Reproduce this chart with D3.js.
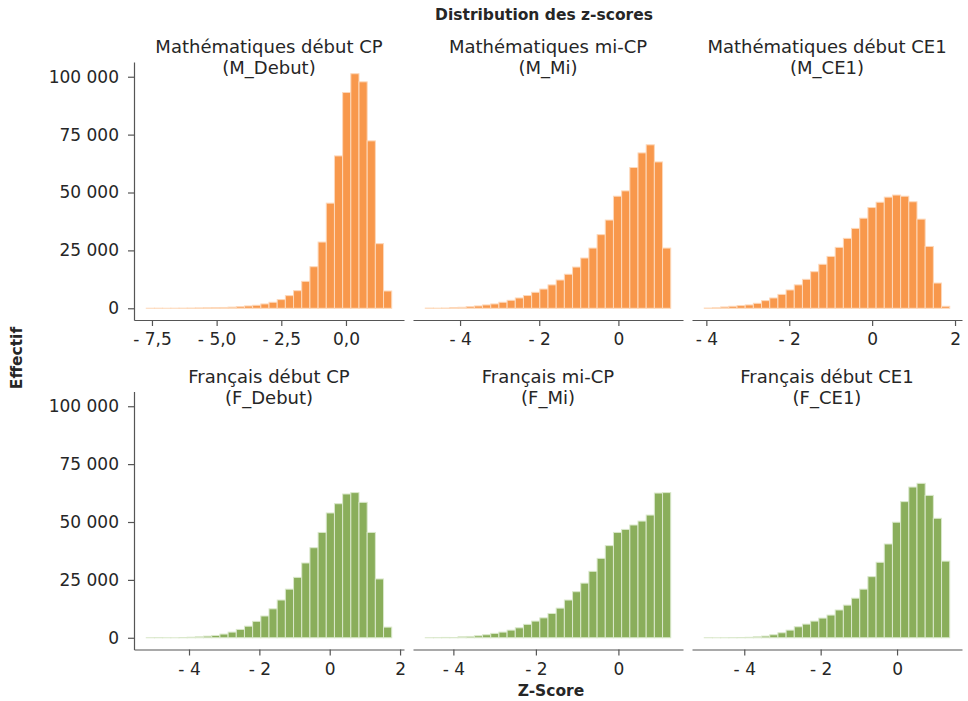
<!DOCTYPE html>
<html><head><meta charset="utf-8">
<script src="https://cdn.jsdelivr.net/npm/d3@7"></script>
<style>body{margin:0;background:#fff}svg{display:block}text{font-family:"DejaVu Sans",sans-serif;fill:#262626}</style>
</head><body>
<svg id="c" width="968" height="701"></svg>
<script>
// ---- data ----
const chartTitle = "Distribution des z-scores";
const xTitle = "Z-Score";
const yTitle = "Effectif";
const panelTitles = [
  ["Mathématiques début CP", "(M_Debut)"],
  ["Mathématiques mi-CP", "(M_Mi)"],
  ["Mathématiques début CE1", "(M_CE1)"],
  ["Français début CP", "(F_Debut)"],
  ["Français mi-CP", "(F_Mi)"],
  ["Français début CE1", "(F_CE1)"]
];
// first bin left edge and bin width (z-score units), 30 bins each
const binStart = [-7.72, -4.879, -4.05, -5.215, -4.681, -5.047];
const binWidth = [0.3163, 0.2067, 0.1974, 0.2326, 0.1983, 0.2142];
const M_Debut = [20,40,10,30,60,100,150,200,250,350,500,700,1000,1300,1870,2590,3740,5460,7600,11640,17950,28600,45400,65800,93200,101300,97800,72300,27900,7460];
const M_Mi    = [80,50,100,290,430,700,1000,1440,1870,2600,3450,4450,5500,6900,8300,10100,12200,14700,17800,21700,26000,31800,38100,48400,50700,60800,67100,70600,63200,26000];
const M_CE1   = [100,200,570,860,1150,1440,2150,3300,4450,6000,7900,10100,12500,15800,19000,22400,26300,30200,34500,38900,43500,45800,48000,48900,48400,46000,38500,26700,10900,860];
const F_Debut = [30,50,20,10,100,250,430,700,1000,1600,2450,3600,5000,7100,9400,12500,16300,21000,26100,32300,38900,45500,53900,57900,62100,62700,58500,45500,25400,4600];
const F_Mi    = [30,50,150,100,430,580,860,1300,1900,2450,3300,4300,5800,7200,8600,10500,12800,16300,19900,23600,28700,34300,39800,45500,46800,48700,50400,53000,62500,62700];
const F_CE1   = [30,10,20,50,100,200,430,720,1300,2160,3300,4750,5900,7200,8500,9800,12000,14100,17100,21000,26400,32600,40500,49900,58800,65100,66700,61500,51600,33100];
const counts = [M_Debut, M_Mi, M_CE1, F_Debut, F_Mi, F_CE1];
const xTicks = [[-7.5,-5,-2.5,0],[-4,-2,0],[-4,-2,0,2],[-4,-2,0,2],[-4,-2,0],[-4,-2,0]];
const yTicks = [0,25000,50000,75000,100000];
const fills = ["#f8984c","#f8984c","#f8984c","#8aae5b","#8aae5b","#8aae5b"];
const strokes = ["#fdd8ba","#fdd8ba","#fdd8ba","#dae8cb","#dae8cb","#dae8cb"];

// ---- layout ----
const svg = d3.select("#c");
const colX = [[134,404],[413,683],[692,962]];
const rowY = [[320,62],[649.5,391.5]];
const fr = d3.formatLocale({decimal:",", thousands:"\u00a0", grouping:[3], currency:["","€"], minus:"-\u00a0"});
const fmtY = fr.format(",d");
const FS = 17, FT = 18;

const ymax = d3.max(counts.flat());
const yDom = [-0.05*ymax, 1.05*ymax];

counts.forEach((cnt, p) => {
  const col = p % 3, row = Math.floor(p/3);
  const s = binStart[p], w = binWidth[p], n = cnt.length;
  const ext = n*w;
  const x = d3.scaleLinear().domain([s - 0.05*ext, s + ext + 0.05*ext]).range(colX[col]);
  const y = d3.scaleLinear().domain(yDom).range(rowY[row]);
  const g = svg.append("g");
  g.selectAll("rect").data(cnt).join("rect")
    .attr("x", (d,i) => x(s + i*w))
    .attr("width", x(s+w) - x(s))
    .attr("y", d => y(d))
    .attr("height", d => y(0) - y(d))
    .attr("fill", fills[p]).attr("stroke", strokes[p]).attr("stroke-width", 1);

  const fx = p === 0 ? fr.format(".1f") : fr.format("d");
  const ax = g.append("g").attr("transform", `translate(0,${rowY[row][0]})`)
    .call(d3.axisBottom(x).tickValues(xTicks[p]).tickFormat(fx).tickSize(6).tickSizeOuter(0).tickPadding(7));
  ax.select(".domain").attr("stroke", "#555").attr("stroke-width", 1.2);
  ax.selectAll(".tick line").attr("stroke", "#555").attr("stroke-width", 1.2);
  ax.selectAll("text").attr("font-size", FS).attr("fill", "#262626").attr("font-family", "DejaVu Sans");

  if (col === 0) {
    const ay = g.append("g").attr("transform", `translate(${colX[0][0]},0)`)
      .call(d3.axisLeft(y).tickValues(yTicks).tickFormat(fmtY).tickSize(6).tickSizeOuter(0).tickPadding(9));
    ay.select(".domain").attr("stroke", "#555").attr("stroke-width", 1.2);
    ay.selectAll(".tick line").attr("stroke", "#555").attr("stroke-width", 1.2);
    ay.selectAll("text").attr("font-size", FS).attr("fill", "#262626").attr("font-family", "DejaVu Sans");
  }

  const cx = (colX[col][0] + colX[col][1]) / 2;
  const ty = rowY[row][1];
  g.append("text").attr("x", cx).attr("y", ty - 9).attr("text-anchor", "middle")
    .attr("font-size", FT).text(panelTitles[p][0]);
  g.append("text").attr("x", cx).attr("y", ty + 12).attr("text-anchor", "middle")
    .attr("font-size", FT).text(panelTitles[p][1]);
});

svg.append("text").attr("x", 544).attr("y", 20).attr("text-anchor", "middle")
  .attr("font-size", 15.5).attr("font-weight", "bold").text(chartTitle);
svg.append("text").attr("x", 551).attr("y", 696).attr("text-anchor", "middle")
  .attr("font-size", 15.5).attr("font-weight", "bold").text(xTitle);
svg.append("text").attr("transform", "translate(22,358) rotate(-90)").attr("text-anchor", "middle")
  .attr("font-size", 15.5).attr("font-weight", "bold").text(yTitle);
</script>
</body></html>
